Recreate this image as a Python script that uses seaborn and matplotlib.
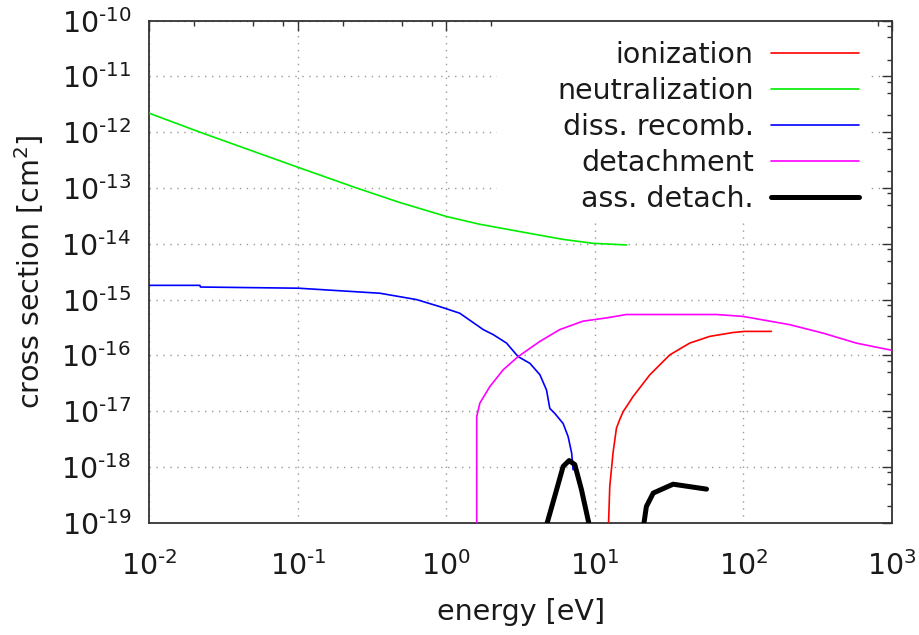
import numpy as np
import pandas as pd
import matplotlib
matplotlib.use("Agg")
import matplotlib.pyplot as plt
import matplotlib.ticker as mticker
from matplotlib.patches import Rectangle
import seaborn as sns

# ---- data ----
ion_E = [12.25, 12.59, 13.24, 13.96, 14.7, 15.5, 18.07, 23.4, 31.9, 43.5, 59.3, 85.2, 102.0, 154.0]
ion_s = [5e-20, 4.5e-19, 1.78e-18, 4.95e-18, 7.1e-18, 9.8e-18, 1.83e-17, 4.47e-17,
         1.02e-16, 1.66e-16, 2.19e-16, 2.57e-16, 2.69e-16, 2.69e-16]

neu_E = [0.01, 0.022, 0.0982, 0.249, 0.486, 1.0, 1.68, 2.82, 6.11, 9.73, 16.3]
neu_s = [2.19e-12, 1.0e-12, 2.4e-13, 1.0e-13, 5.5e-14, 3.09e-14, 2.24e-14, 1.74e-14,
         1.2e-14, 1.02e-14, 9.55e-15]

dis_E = [0.01, 0.0219, 0.0221, 0.101, 0.357, 0.63, 0.90, 1.23, 1.77, 2.07, 2.54, 3.04,
         3.65, 4.26, 4.72, 4.97, 5.37, 6.11, 6.6, 6.97, 7.13]
dis_s = [1.8e-15, 1.8e-15, 1.68e-15, 1.6e-15, 1.3e-15, 1.0e-15, 7.5e-16, 5.7e-16, 2.9e-16,
         2.35e-16, 1.66e-16, 9.5e-17, 7.2e-17, 4.5e-17, 2.4e-17, 1.12e-17, 9.1e-18,
         6.0e-18, 3.5e-18, 1.78e-18, 8.9e-19]

det_E = [1.6, 1.6, 1.68, 1.96, 2.41, 3.04, 4.26, 5.8, 8.3, 12.0, 16.3, 65.8, 99.0,
         205.0, 344.0, 575.0, 1000.0]
det_s = [5e-20, 8.0e-18, 1.39e-17, 2.75e-17, 5.5e-17, 9.5e-17, 1.78e-16, 2.9e-16, 4.1e-16,
         4.7e-16, 5.4e-16, 5.4e-16, 5.0e-16, 3.55e-16, 2.5e-16, 1.66e-16, 1.23e-16]

ass1_E = [4.63, 5.52, 6.11, 6.7, 7.32, 8.12, 9.3]
ass1_s = [7.5e-20, 3.9e-19, 1.02e-18, 1.3e-18, 1.1e-18, 3.9e-19, 7.5e-20]
ass2_E = [21.0, 22.2, 24.7, 33.6, 56.4]
ass2_s = [7e-20, 1.95e-19, 3.4e-19, 4.9e-19, 4.0e-19]

labels = ["ionization", "neutralization", "diss. recomb.", "detachment", "ass. detach."]
colors = ["#ff0000", "#00ee00", "#0000ff", "#ff00ff", "#000000"]

x_ticks = [1e-2, 1e-1, 1e0, 1e1, 1e2, 1e3]
y_ticks = [10.0 ** k for k in range(-19, -9)]

# ---- style ----
sns.set_style("white")
plt.rcParams["font.family"] = ["DejaVu Sans"]
txt = "#1a1a1a"

fig = plt.figure(figsize=(9.2, 6.35), dpi=100)
ax = fig.add_axes([149.3 / 920, 1 - 522.7 / 635, (892 - 149.3) / 920, (522.7 - 20.7) / 635])

series = [(ion_E, ion_s), (neu_E, neu_s), (dis_E, dis_s), (det_E, det_s)]
for (E, s), lab, col in zip(series, labels[:4], colors[:4]):
    df = pd.DataFrame({"E": E, "s": s})
    sns.lineplot(data=df, x="E", y="s", ax=ax, color=col, lw=1.2, label=lab,
                 estimator=None, sort=False, zorder=3)
df1 = pd.DataFrame({"E": ass1_E, "s": ass1_s})
df2 = pd.DataFrame({"E": ass2_E, "s": ass2_s})
sns.lineplot(data=df1, x="E", y="s", ax=ax, color=colors[4], lw=3.6, label=labels[4],
             estimator=None, sort=False, zorder=3)
sns.lineplot(data=df2, x="E", y="s", ax=ax, color=colors[4], lw=3.6, label="_nolegend_",
             estimator=None, sort=False, zorder=3)

ax.set_xscale("log")
ax.set_yscale("log")
ax.set_xlim(1e-2, 1e3)
ax.set_ylim(1e-19, 1e-10)

ax.xaxis.set_major_locator(mticker.FixedLocator(x_ticks))
ax.yaxis.set_major_locator(mticker.FixedLocator(y_ticks))
ax.xaxis.set_minor_locator(mticker.LogLocator(base=10, subs=(2, 5, 8), numticks=30))
ax.yaxis.set_minor_locator(mticker.LogLocator(base=10, subs=(2, 5, 8), numticks=30))
ax.xaxis.set_minor_formatter(mticker.NullFormatter())
ax.yaxis.set_minor_formatter(mticker.NullFormatter())

def fmt(v, pos):
    k = int(round(np.log10(v)))
    if k < 0:
        return "$10^{\u2010%d}$" % (-k)
    return "$10^{%d}$" % k

ax.xaxis.set_major_formatter(mticker.FuncFormatter(fmt))
ax.yaxis.set_major_formatter(mticker.FuncFormatter(fmt))

ax.tick_params(which="both", direction="in", top=True, right=True, colors="#333333",
               labelcolor=txt, labelsize=20.5)
ax.tick_params(which="major", length=7.2, width=1.0)
ax.tick_params(which="minor", length=3.6, width=1.0)
ax.tick_params(axis="x", which="major", pad=20.5)
ax.tick_params(axis="y", which="major", pad=13)

for sp in ax.spines.values():
    sp.set_color("#333333")
    sp.set_linewidth(1.3)

ax.set_axisbelow(True)
ax.grid(True, which="major", color="#999999", linestyle=(0, (1, 4)), linewidth=1.0)
ax.add_patch(Rectangle((0.468, 0.603), 0.502, 0.397, transform=ax.transAxes,
                       facecolor="white", edgecolor="none", zorder=1))

ax.set_xlabel("energy [eV]", fontsize=20.5, color=txt, labelpad=12)
ax.set_ylabel("cross section [cm$^2$]", fontsize=20.5, color=txt, labelpad=11)

leg = ax.legend(loc="upper right", bbox_to_anchor=(0.9556, 0.959), frameon=False,
                markerfirst=False, fontsize=20.5, handlelength=3.1, handletextpad=0.6,
                labelspacing=0.275, borderpad=0, borderaxespad=0)
for t in leg.get_texts():
    t.set_color(txt)

fig.savefig("out.png", dpi=100)
